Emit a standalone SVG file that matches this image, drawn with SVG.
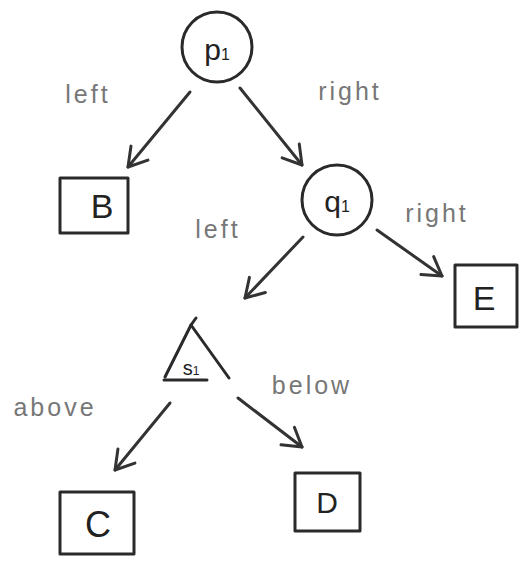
<svg xmlns="http://www.w3.org/2000/svg" width="523" height="564" viewBox="0 0 523 564">
<defs>
<style>
.n{fill:none;stroke:#2a2a2a;stroke-width:3;stroke-linecap:round;stroke-linejoin:round}
.e{fill:none;stroke:#333;stroke-width:3;stroke-linecap:round}
.t{font-family:"Liberation Sans",Arial,sans-serif;fill:#222;text-anchor:middle}
.l{font-family:"Liberation Sans",Arial,sans-serif;fill:#777;font-size:25px;letter-spacing:3px;text-anchor:middle}
</style>
<marker id="arr" viewBox="-20 -13 22 26" refX="0" refY="0" markerWidth="22" markerHeight="26" markerUnits="userSpaceOnUse" orient="auto">
<polyline points="-18,-11 0,0 -18,11" fill="none" stroke="#333" stroke-width="3" stroke-linecap="round" stroke-linejoin="round"/>
</marker>
</defs>
<rect width="523" height="564" fill="#fff"/>
<g id="connectors">
<line class="e" x1="190" y1="92" x2="128" y2="167" marker-end="url(#arr)"/>
<line class="e" x1="240" y1="88" x2="302" y2="165" marker-end="url(#arr)"/>
<line class="e" x1="303" y1="237" x2="245" y2="298" marker-end="url(#arr)"/>
<line class="e" x1="377" y1="230" x2="442" y2="276" marker-end="url(#arr)"/>
<line class="e" x1="170" y1="403" x2="115" y2="470" marker-end="url(#arr)"/>
<line class="e" x1="238" y1="398" x2="302" y2="447" marker-end="url(#arr)"/>
<text class="l" x="88" y="103">left</text>
<text class="l" x="350" y="100">right</text>
<text class="l" x="218" y="238">left</text>
<text class="l" x="437" y="222">right</text>
<text class="l" x="55" y="416">above</text>
<text class="l" x="312" y="394">below</text>
</g>
<g id="p1">
<circle class="n" cx="217" cy="47" r="35"/>
<text class="t" x="217" y="60" font-size="30">p<tspan font-size="16">1</tspan></text>
</g>
<g id="q1">
<circle class="n" cx="337" cy="200" r="35"/>
<text class="t" x="337" y="212" font-size="30">q<tspan font-size="16">1</tspan></text>
</g>
<g id="B">
<rect class="n" x="60" y="178" width="68" height="55"/>
<text class="t" x="102" y="218" font-size="34">B</text>
</g>
<g id="E">
<rect class="n" x="455" y="265" width="62" height="62"/>
<text class="t" x="484" y="310" font-size="34">E</text>
</g>
<g id="s1">
<polyline class="n" points="196,318 191,325 165,377"/>
<polyline class="n" points="191,325 229,378"/>
<line class="n" x1="164" y1="380" x2="207" y2="380"/>
<text class="t" x="191" y="375" font-size="20">s<tspan font-size="12">1</tspan></text>
</g>
<g id="C">
<rect class="n" x="60" y="492" width="74" height="62"/>
<text class="t" x="98" y="537" font-size="36">C</text>
</g>
<g id="D">
<rect class="n" x="295" y="473" width="65" height="58"/>
<text class="t" x="327" y="513" font-size="30">D</text>
</g>
</svg>
